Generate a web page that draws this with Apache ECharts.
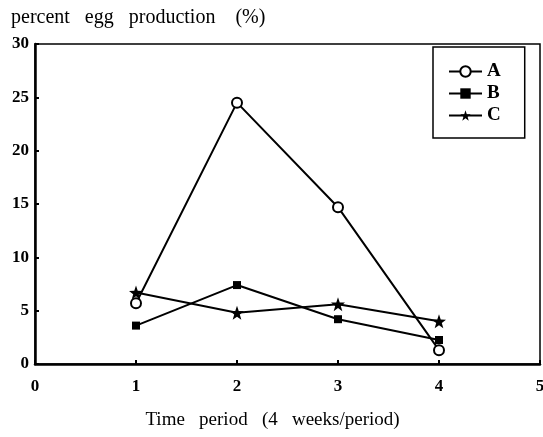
<!DOCTYPE html>
<html>
<head>
<meta charset="utf-8">
<script src="https://cdn.jsdelivr.net/npm/echarts@6/dist/echarts.min.js"></script>
<style>
  html, body { margin: 0; padding: 0; background: #fff; }
  #chart { width: 543px; height: 437px; }
</style>
</head>
<body>
<div id="chart"></div>
<script>
// time periods and egg production (%) per group
var periods = [1, 2, 3, 4];
var groupA = [5.7, 24.5, 14.7, 1.3];
var groupB = [3.6, 7.4, 4.2, 2.25];
var groupC = [6.7, 4.8, 5.6, 4.0];

var star = 'path://M0,-10 L2.35,-3.24 9.51,-3.09 3.8,1.24 5.88,8.09 0,4 -5.88,8.09 -3.8,1.24 -9.51,-3.09 -2.35,-3.24Z';
var serif = '"Liberation Serif", "DejaVu Serif", serif';

function pairs(vals) {
    return periods.map(function (p, i) { return [p, vals[i]]; });
}

var chart = echarts.init(document.getElementById('chart'));

var option = {
    animation: false,
    title: {
        text: 'percent   egg   production    (%)',
        left: 6,
        top: 3,
        textStyle: { fontFamily: serif, fontSize: 20, fontWeight: 'normal', color: '#000' }
    },
    legend: {
        orient: 'vertical',
        left: 433,
        top: 47,
        padding: [15, 24, 13, 15],
        itemGap: 3,
        itemWidth: 33,
        itemHeight: 13,
        borderColor: '#000',
        borderWidth: 1.5,
        textStyle: { fontFamily: serif, fontSize: 19, fontWeight: 'bold', color: '#000' },
        data: ['A', 'B', 'C']
    },
    grid: {
        left: 35,
        right: 3,
        top: 44,
        bottom: 73,
        outerBoundsMode: 'none',
        show: true,
        borderColor: '#000',
        borderWidth: 1.5
    },
    xAxis: {
        type: 'value',
        min: 0,
        max: 5,
        interval: 1,
        name: 'Time   period   (4   weeks/period)',
        nameLocation: 'middle',
        nameGap: 47,
        nameTextStyle: { fontFamily: serif, fontSize: 19, color: '#000', padding: [0, 30, 0, 0] },
        axisLine: { lineStyle: { color: '#000', width: 2.5 } },
        axisTick: { inside: true, length: 4, lineStyle: { color: '#000', width: 2 } },
        axisLabel: { margin: 14, fontFamily: serif, fontSize: 17, fontWeight: 'bold', color: '#000' },
        splitLine: { show: false }
    },
    yAxis: {
        type: 'value',
        min: 0,
        max: 30,
        interval: 5,
        axisLine: { lineStyle: { color: '#000', width: 2.5 } },
        axisTick: { inside: true, length: 4, lineStyle: { color: '#000', width: 2 } },
        axisLabel: { margin: 6, fontFamily: serif, fontSize: 17, fontWeight: 'bold', color: '#000' },
        splitLine: { show: false }
    },
    series: [
        {
            name: 'A',
            type: 'line',
            data: pairs(groupA),
            symbol: 'emptyCircle',
            symbolSize: 10,
            lineStyle: { color: '#000', width: 2 },
            itemStyle: { color: '#000', borderColor: '#000', borderWidth: 2 }
        },
        {
            name: 'B',
            type: 'line',
            data: pairs(groupB),
            symbol: 'rect',
            symbolSize: 8,
            lineStyle: { color: '#000', width: 2 },
            itemStyle: { color: '#000' }
        },
        {
            name: 'C',
            type: 'line',
            data: pairs(groupC),
            symbol: star,
            symbolSize: 14,
            lineStyle: { color: '#000', width: 2 },
            itemStyle: { color: '#000' }
        }
    ]
};

chart.setOption(option);

window.onresize = chart.resize;
</script>
</body>
</html>
